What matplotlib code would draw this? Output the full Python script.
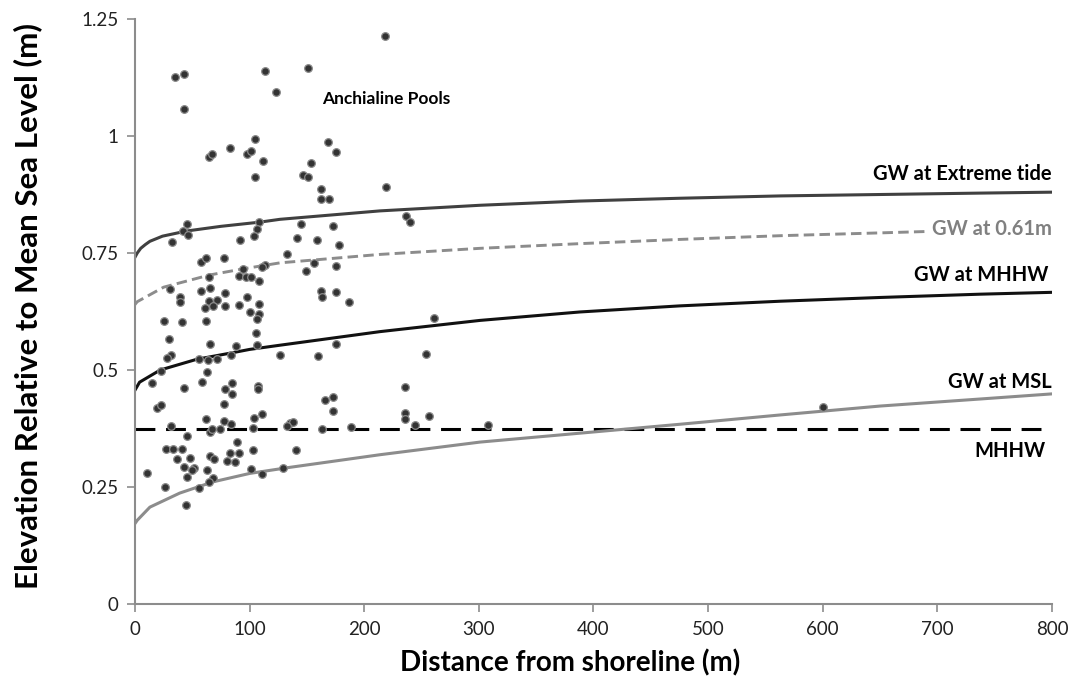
import matplotlib.pyplot as plt
import numpy as np

plt.rcParams['font.family'] = ['Lato', 'DejaVu Sans']

# anchialine pools: distance from shoreline (m), elevation above MSL (m)
pool_x = [34.9, 42.8, 42.8, 113.4, 123.0, 104.7, 82.9, 64.6, 67.2, 97.7, 101.2, 111.7, 104.7,
          218.1, 150.9, 168.4, 175.4, 153.5, 146.6, 150.9, 162.3, 162.3, 169.2, 219.0,
          45.4, 41.9, 46.2, 32.3, 108.2, 106.4, 103.8, 91.6, 141.3, 144.8, 132.6, 57.6,
          61.9, 77.6, 113.4, 110.8, 94.2, 90.7, 96.8, 101.2, 64.6, 108.2, 30.5, 57.6,
          65.4, 39.3, 39.3, 78.5, 64.6, 71.5, 97.7, 68.0, 61.1, 78.5, 90.7, 108.2, 100.3,
          108.2, 106.4, 25.3, 41.0, 61.9, 29.7, 105.6, 65.4, 88.1, 106.4, 31.4, 27.9,
          55.8, 63.7, 71.5, 83.8, 126.5, 22.7, 62.8, 14.8, 42.7, 58.5, 84.6, 78.5, 84.6,
          107.3, 107.3, 19.2, 22.7, 77.6, 31.4, 61.9, 45.4, 65.4, 67.2, 74.2, 77.6, 83.8,
          103.8, 110.8, 102.9, 135.2, 137.8, 132.6, 89.0, 27.0, 33.2, 41.0, 102.9, 140.5,
          36.6, 48.0, 65.4, 68.9, 82.9, 90.7, 80.3, 87.2, 42.7, 51.5, 49.7, 62.8, 101.2,
          10.5, 45.4, 110.8, 129.1, 68.0, 64.6, 55.8, 26.2, 44.5,
          172.7, 158.8, 178.0, 236.4, 239.9, 156.2, 149.2, 175.4, 162.3, 163.1, 175.4,
          186.7, 260.9, 175.4, 159.7, 253.9, 235.5, 172.7, 165.8, 172.7, 235.5, 235.5,
          256.5, 188.4, 244.3, 308.0, 163.1, 600.2]
pool_y = [1.126, 1.132, 1.058, 1.139, 1.094, 0.994, 0.974, 0.955, 0.962, 0.962, 0.968, 0.947, 0.912,
          1.214, 1.145, 0.987, 0.966, 0.942, 0.917, 0.912, 0.887, 0.865, 0.865, 0.891,
          0.812, 0.797, 0.788, 0.774, 0.816, 0.801, 0.786, 0.778, 0.782, 0.812, 0.748, 0.731,
          0.739, 0.739, 0.724, 0.720, 0.716, 0.701, 0.699, 0.699, 0.699, 0.690, 0.673, 0.669,
          0.675, 0.656, 0.645, 0.665, 0.647, 0.650, 0.656, 0.637, 0.632, 0.637, 0.639, 0.641, 0.624,
          0.620, 0.609, 0.605, 0.603, 0.605, 0.566, 0.579, 0.556, 0.551, 0.553, 0.532, 0.526,
          0.524, 0.521, 0.524, 0.532, 0.532, 0.498, 0.496, 0.472, 0.462, 0.474, 0.472, 0.459, 0.449,
          0.466, 0.459, 0.419, 0.425, 0.427, 0.380, 0.395, 0.359, 0.368, 0.374, 0.374, 0.391, 0.385,
          0.397, 0.406, 0.376, 0.387, 0.389, 0.380, 0.346, 0.331, 0.331, 0.331, 0.329, 0.329,
          0.310, 0.312, 0.316, 0.310, 0.323, 0.323, 0.306, 0.303, 0.293, 0.291, 0.286, 0.286, 0.288,
          0.280, 0.271, 0.278, 0.291, 0.269, 0.261, 0.248, 0.250, 0.212,
          0.808, 0.778, 0.767, 0.829, 0.816, 0.729, 0.712, 0.722, 0.669, 0.656, 0.667,
          0.645, 0.611, 0.556, 0.530, 0.534, 0.464, 0.442, 0.436, 0.412, 0.408, 0.395,
          0.402, 0.378, 0.382, 0.382, 0.374, 0.421]

# groundwater surface profiles
ext_x = [0, 2, 5, 9, 13, 24, 45, 75, 109, 126.5, 213.7, 301, 388, 475, 563, 650, 737, 800]
ext_y = [0.741, 0.750, 0.760, 0.768, 0.775, 0.786, 0.797, 0.807, 0.816, 0.822, 0.840, 0.852,
         0.861, 0.867, 0.872, 0.875, 0.878, 0.880]

gw061_x = [0, 2, 25, 65, 94, 126.5, 213.7, 301, 388, 475, 563, 650, 691]
gw061_y = [0.640, 0.646, 0.677, 0.703, 0.716, 0.729, 0.747, 0.760, 0.770, 0.779, 0.787,
           0.793, 0.796]

mhhw_gw_x = [0, 4, 22, 54, 83, 100, 126.5, 213.7, 301, 388, 475, 563, 650, 737, 800]
mhhw_gw_y = [0.457, 0.474, 0.500, 0.523, 0.536, 0.544, 0.553, 0.582, 0.606, 0.624, 0.637,
             0.647, 0.655, 0.662, 0.666]

msl_x = [0, 2, 13, 39, 68, 100, 135, 213.7, 301, 388, 475, 563, 650, 737, 800]
msl_y = [0.172, 0.179, 0.207, 0.237, 0.261, 0.279, 0.292, 0.319, 0.346, 0.365, 0.384, 0.404,
         0.423, 0.438, 0.449]

mhhw_level = 0.375

fig = plt.figure(figsize=(10.73, 6.86), dpi=100)
ax = fig.add_axes([0.1258, 0.1195, 0.8546, 0.8528])

ax.plot([0, 800], [mhhw_level, mhhw_level], color='black', lw=2.2, dashes=(6.5, 3.5))
ax.plot(msl_x, msl_y, color='#8c8c8c', lw=2.2)
ax.plot(mhhw_gw_x, mhhw_gw_y, color='#111111', lw=2.2)
ax.plot(gw061_x, gw061_y, color='#8c8c8c', lw=2.1, dashes=(3.6, 1.8))
ax.plot(ext_x, ext_y, color='#404040', lw=2.2)

ax.plot(pool_x, pool_y, 'o', ms=5.5, mfc='#333333', mec='#8a8a8a', mew=0.9, zorder=5)

lbl = dict(fontsize=14.5, fontweight='bold', ha='right', va='center')
ax.text(800, 0.919, 'GW at Extreme tide', color='black', **lbl)
ax.text(800, 0.801, 'GW at 0.61m', color='#808080', **lbl)
ax.text(797, 0.703, 'GW at MHHW', color='black', **lbl)
ax.text(800, 0.474, 'GW at MSL', color='black', **lbl)
ax.text(763, 0.327, 'MHHW', color='black', fontsize=14.5, fontweight='bold',
        ha='center', va='center')
ax.text(163, 1.079, 'Anchialine Pools', color='black', fontsize=12.5, fontweight='bold',
        ha='left', va='center')

ax.set_xlim(0, 800)
ax.set_ylim(0, 1.25)
ax.set_xticks(np.arange(0, 801, 100))
ax.set_yticks([0, 0.25, 0.5, 0.75, 1, 1.25])
ax.set_yticklabels(['0', '0.25', '0.5', '0.75', '1', '1.25'])

for side in ['top', 'right']:
    ax.spines[side].set_visible(False)
for side in ['left', 'bottom']:
    ax.spines[side].set_color('#8c8c8c')
    ax.spines[side].set_linewidth(1.5)
ax.tick_params(direction='out', length=6, width=1.2, color='#8c8c8c',
               labelsize=13.5, labelcolor='#222222', pad=6)

ax.set_xlabel('Distance from shoreline (m)', fontsize=20, fontweight='bold')
ax.set_ylabel('Elevation Relative to Mean Sea Level (m)', fontsize=22.5, fontweight='bold')
ax.xaxis.set_label_coords(0.475, -0.078)
ax.yaxis.set_label_coords(-0.101, 0.51)

plt.savefig('out.png', dpi=100)
plt.close()
